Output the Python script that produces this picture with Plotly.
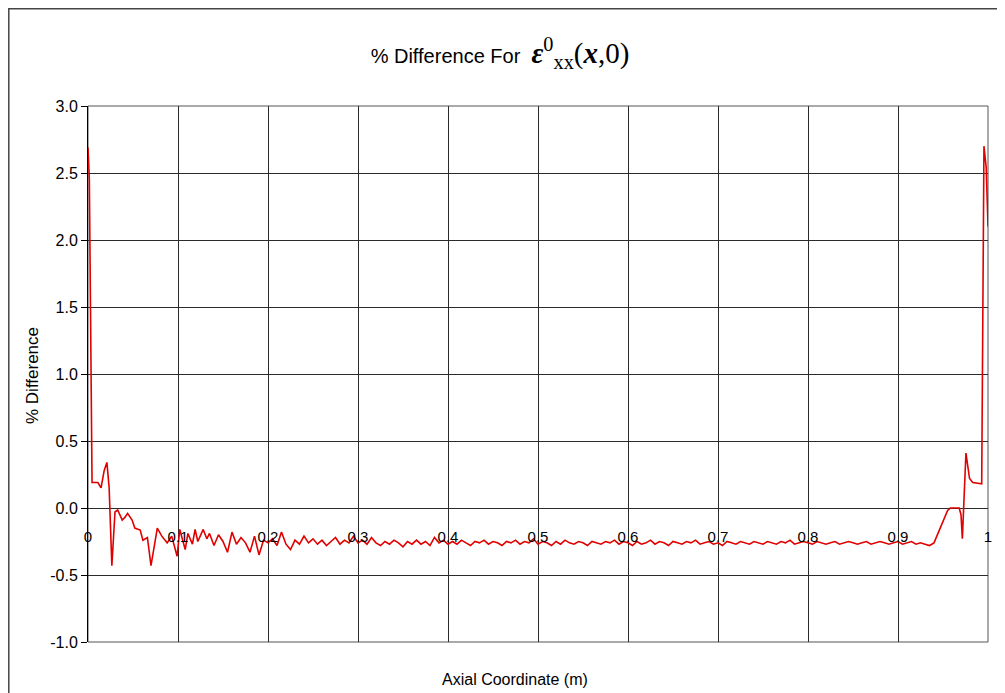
import plotly.graph_objects as go

# ---- data ----
x_left = [0.0, 0.0015, 0.0045, 0.011, 0.0145, 0.018, 0.021, 0.0235, 0.0265, 0.030,
          0.033, 0.038, 0.041, 0.044, 0.049, 0.052, 0.058, 0.061, 0.066, 0.070,
          0.077, 0.082, 0.088, 0.093, 0.099, 0.102, 0.108, 0.111, 0.116, 0.119,
          0.122, 0.128, 0.132]
y_left = [2.69, 2.45, 0.19, 0.19, 0.15, 0.28, 0.34, 0.15, -0.43, -0.03,
          -0.015, -0.09, -0.07, -0.04, -0.09, -0.15, -0.165, -0.24, -0.22, -0.43,
          -0.15, -0.21, -0.26, -0.21, -0.36, -0.16, -0.31, -0.19, -0.27, -0.16,
          -0.25, -0.16, -0.23]

x_mid = [0.135, 0.140, 0.145, 0.150, 0.155, 0.160, 0.165, 0.170, 0.175, 0.180,
         0.185, 0.190, 0.195, 0.200, 0.205, 0.210, 0.215, 0.220, 0.225, 0.230,
         0.235, 0.240, 0.245, 0.250, 0.255, 0.260, 0.265, 0.270, 0.275, 0.280,
         0.285, 0.290, 0.295, 0.300, 0.305, 0.310, 0.315, 0.320, 0.325, 0.330,
         0.335, 0.340, 0.345, 0.350, 0.355, 0.360, 0.365, 0.370, 0.375, 0.380,
         0.385, 0.390, 0.395, 0.400, 0.405, 0.410, 0.415, 0.420, 0.425, 0.430,
         0.435, 0.440, 0.445, 0.450, 0.455, 0.460, 0.465, 0.470, 0.475, 0.480,
         0.485, 0.490, 0.495, 0.500, 0.505, 0.510, 0.515, 0.520, 0.525, 0.530,
         0.535, 0.540, 0.545, 0.550, 0.555, 0.560, 0.565, 0.570, 0.575, 0.580,
         0.585, 0.590, 0.595, 0.600, 0.605, 0.610, 0.615, 0.620, 0.625, 0.630,
         0.635, 0.640, 0.645, 0.650, 0.655, 0.660, 0.665, 0.670, 0.675, 0.680,
         0.685, 0.690, 0.695, 0.700, 0.705, 0.710, 0.715, 0.720, 0.725, 0.730,
         0.735, 0.740, 0.745, 0.750, 0.755, 0.760, 0.765, 0.770, 0.775, 0.780,
         0.785, 0.790, 0.795, 0.800, 0.805, 0.810, 0.815, 0.820, 0.825, 0.830,
         0.835, 0.840, 0.845, 0.850, 0.855, 0.860, 0.865, 0.870, 0.875, 0.880,
         0.885, 0.890, 0.895, 0.900, 0.905, 0.910, 0.915, 0.920, 0.925, 0.930]
y_mid = [-0.19, -0.28, -0.20, -0.25, -0.33, -0.18, -0.27, -0.22, -0.26, -0.33,
         -0.21, -0.35, -0.24, -0.26, -0.23, -0.28, -0.18, -0.27, -0.31, -0.24,
         -0.27, -0.21, -0.26, -0.23, -0.27, -0.24, -0.28, -0.25, -0.22, -0.27,
         -0.24, -0.26, -0.21, -0.26, -0.24, -0.27, -0.22, -0.26, -0.28, -0.25,
         -0.27, -0.24, -0.26, -0.29, -0.25, -0.27, -0.24, -0.27, -0.25, -0.28,
         -0.22, -0.26, -0.24, -0.27, -0.25, -0.27, -0.24, -0.26, -0.28, -0.25,
         -0.26, -0.24, -0.27, -0.25, -0.26, -0.28, -0.25, -0.26, -0.24, -0.27,
         -0.25, -0.26, -0.23, -0.27, -0.25, -0.26, -0.28, -0.25, -0.27, -0.24,
         -0.26, -0.27, -0.25, -0.26, -0.28, -0.25, -0.26, -0.27, -0.25, -0.26,
         -0.24, -0.27, -0.25, -0.26, -0.28, -0.25, -0.27, -0.26, -0.24, -0.27,
         -0.25, -0.26, -0.28, -0.25, -0.26, -0.27, -0.25, -0.26, -0.24, -0.27,
         -0.26, -0.25, -0.27, -0.26, -0.28, -0.25, -0.26, -0.27, -0.25, -0.26,
         -0.27, -0.25, -0.26, -0.27, -0.25, -0.26, -0.27, -0.25, -0.26, -0.24,
         -0.27, -0.26, -0.25, -0.26, -0.27, -0.25, -0.26, -0.27, -0.26, -0.25,
         -0.27, -0.26, -0.25, -0.26, -0.27, -0.26, -0.25, -0.27, -0.26, -0.25,
         -0.26, -0.27, -0.26, -0.25, -0.27, -0.26, -0.25, -0.27, -0.26, -0.27]

x_right = [0.935, 0.940, 0.945, 0.950, 0.955, 0.958, 0.968, 0.970, 0.9715, 0.9755,
           0.977, 0.9795, 0.983, 0.993, 0.9955, 0.998, 1.0]
y_right = [-0.28, -0.26, -0.18, -0.09, -0.02, 0.0, 0.0, -0.05, -0.23, 0.41,
           0.33, 0.22, 0.19, 0.18, 2.70, 2.54, 2.10]

x_ticks = [0, 0.1, 0.2, 0.3, 0.4, 0.5, 0.6, 0.7, 0.8, 0.9, 1]
x_tick_text = ["0", "0.1", "0.2", "0.3", "0.4", "0.5", "0.6", "0.7", "0.8", "0.9", "1"]
y_ticks = [-1.0, -0.5, 0.0, 0.5, 1.0, 1.5, 2.0, 2.5, 3.0]
y_tick_text = ["-1.0", "-0.5", "0.0", "0.5", "1.0", "1.5", "2.0", "2.5", "3.0"]
y_range = [-1.0, 3.0]

x_all = x_left + x_mid + x_right
y_all = y_left + y_mid + y_right

FONT = "Liberation Sans, Arial, sans-serif"

# page body has an 8px margin; figure is sized so the plot lands where the reference has it
W, H = 997, 685
ML, MR, MT, MB = 80, 17, 98, 51
PW, PH = W - ML - MR, H - MT - MB  # 900 x 536
OFF = 8

def px_x(page_x):
    return (page_x - OFF - ML) / PW

def px_y(page_y):
    return (H - MB + OFF - page_y) / PH

fig = go.Figure()
fig.add_trace(go.Scatter(x=x_all, y=y_all, mode="lines",
                         line=dict(color="#e00000", width=1.6),
                         showlegend=False, hoverinfo="skip"))

# x axis crosses at y = 0 (Excel style)
zero_pos = (0 - y_range[0]) / (y_range[1] - y_range[0])

fig.update_layout(
    width=W, height=H,
    margin=dict(l=ML, r=MR, t=MT, b=MB, autoexpand=False),
    paper_bgcolor="white", plot_bgcolor="white",
    font=dict(family=FONT, size=15, color="black"),
    title=dict(
        text='% Difference For  <span style="font-family:Liberation Serif, Times New Roman, serif;font-size:29px">'
             '<b><i>ε</i></b><sup>0</sup><sub>xx</sub>(<b><i>x</i></b>,0)</span>',
        x=(500 - OFF) / W, xanchor="center", y=1 - (56 - OFF) / H, yanchor="middle",
        font=dict(family=FONT, size=20, color="black")),
    xaxis=dict(range=[0, 1], tickvals=x_ticks, ticktext=x_tick_text,
               showgrid=True, gridcolor="#2b2b2b", gridwidth=1,
               zeroline=False, showline=False,
               anchor="free", position=zero_pos,
               ticks="outside", ticklen=15, tickcolor="rgba(0,0,0,0)",
               tickfont=dict(family=FONT, size=15, color="black")),
    yaxis=dict(range=y_range, tickvals=y_ticks, ticktext=y_tick_text,
               showgrid=True, gridcolor="#2b2b2b", gridwidth=1,
               zeroline=False, showline=True, linecolor="black", linewidth=1,
               ticks="outside", ticklen=6, tickcolor="black",
               tickfont=dict(family=FONT, size=16, color="black")),
    annotations=[
        dict(text="% Difference", xref="paper", yref="paper",
             x=px_x(32), y=px_y(376), textangle=-90,
             showarrow=False, xanchor="center", yanchor="middle",
             font=dict(family=FONT, size=17, color="black")),
        dict(text="Axial Coordinate (m)", xref="paper", yref="paper",
             x=px_x(515), y=px_y(679),
             showarrow=False, xanchor="center", yanchor="middle",
             font=dict(family=FONT, size=16, color="black")),
    ],
    shapes=[
        dict(type="rect", xref="paper", yref="paper", x0=0, x1=1, y0=0, y1=1,
             line=dict(color="#555555", width=1), layer="below"),
        dict(type="rect", xref="paper", yref="paper",
             x0=px_x(8.8), x1=px_x(1010),
             y0=px_y(720), y1=px_y(8.8),
             line=dict(color="#444444", width=1.5), layer="below"),
    ],
)

fig.write_html("out.html")
